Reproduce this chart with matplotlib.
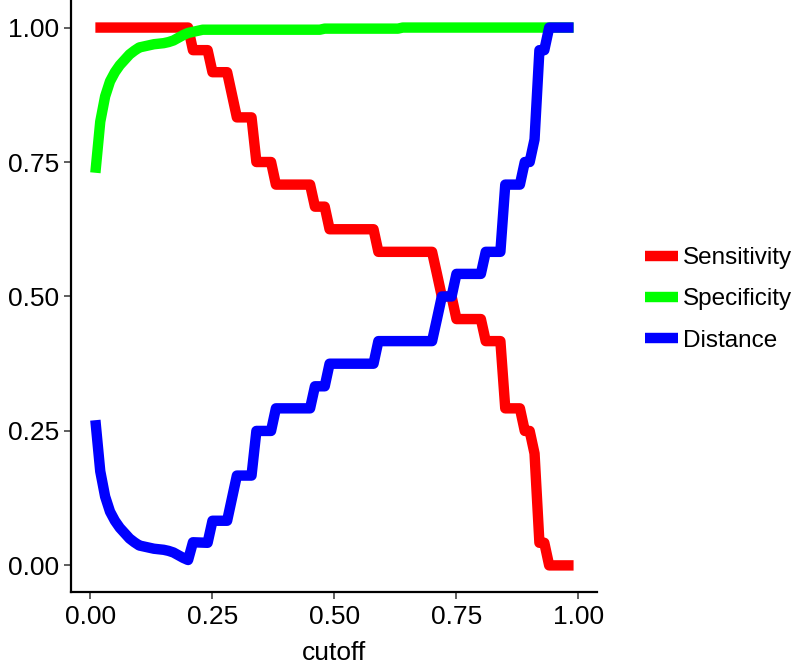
import numpy as np
import matplotlib
matplotlib.use("Agg")
import matplotlib.pyplot as plt

# polyline vertices (cutoff, value)
sens_x = [0.01, 0.20, 0.21, 0.24, 0.25, 0.28, 0.29, 0.30, 0.33, 0.34, 0.37, 0.38,
          0.45, 0.46, 0.48, 0.49, 0.58, 0.59, 0.70, 0.71, 0.72, 0.74, 0.75, 0.80,
          0.81, 0.84, 0.85, 0.88, 0.89, 0.90, 0.91, 0.92, 0.93, 0.94, 0.99]
sens_y = [1.0, 1.0, 0.958, 0.958, 0.917, 0.917, 0.875, 0.833, 0.833, 0.75, 0.75, 0.708,
          0.708, 0.667, 0.667, 0.625, 0.625, 0.583, 0.583, 0.542, 0.5, 0.5, 0.458, 0.458,
          0.417, 0.417, 0.292, 0.292, 0.25, 0.25, 0.208, 0.042, 0.042, 0.0, 0.0]

spec_x = [0.01, 0.02, 0.03, 0.04, 0.05, 0.06, 0.07, 0.08, 0.09, 0.10, 0.11, 0.12,
          0.13, 0.14, 0.15, 0.16, 0.17, 0.18, 0.19, 0.20, 0.21, 0.22, 0.23, 0.24,
          0.47, 0.48, 0.63, 0.64, 0.99]
spec_y = [0.730, 0.825, 0.872, 0.900, 0.917, 0.930, 0.940, 0.950, 0.957, 0.963, 0.965, 0.967,
          0.969, 0.970, 0.971, 0.973, 0.976, 0.981, 0.986, 0.990, 0.992, 0.994, 0.996, 0.996,
          0.996, 0.998, 0.998, 1.0, 1.0]

dist_x = [0.01, 0.02, 0.03, 0.04, 0.05, 0.06, 0.07, 0.08, 0.09, 0.10, 0.11, 0.12,
          0.13, 0.14, 0.15, 0.16, 0.17, 0.18, 0.19, 0.20, 0.21, 0.24, 0.25, 0.28,
          0.29, 0.30, 0.33, 0.34, 0.37, 0.38, 0.45, 0.46, 0.48, 0.49, 0.58, 0.59,
          0.70, 0.71, 0.72, 0.74, 0.75, 0.80, 0.81, 0.84, 0.85, 0.88, 0.89, 0.90,
          0.91, 0.92, 0.93, 0.94, 0.99]
dist_y = [0.270, 0.175, 0.128, 0.100, 0.083, 0.070, 0.060, 0.050, 0.043, 0.037, 0.035, 0.033,
          0.031, 0.030, 0.029, 0.027, 0.024, 0.019, 0.014, 0.010, 0.043, 0.042, 0.083, 0.083,
          0.125, 0.167, 0.167, 0.25, 0.25, 0.292, 0.292, 0.333, 0.333, 0.375, 0.375, 0.417,
          0.417, 0.458, 0.5, 0.5, 0.542, 0.542, 0.583, 0.583, 0.708, 0.708, 0.75, 0.75,
          0.792, 0.958, 0.958, 1.0, 1.0]

labels = ["Sensitivity", "Specificity", "Distance"]
colors = ["#FF0000", "#00FF00", "#0000FF"]

plt.rcParams['font.family'] = ['Liberation Sans', 'DejaVu Sans']

fig = plt.figure(figsize=(7.94, 6.64), dpi=100)
ax = fig.add_axes([0.090, 0.108, 0.6625, 0.891])

lw = 7.5
ax.plot(sens_x, sens_y, color=colors[0], lw=lw, label=labels[0], solid_capstyle='butt')
ax.plot(spec_x, spec_y, color=colors[1], lw=lw, label=labels[1], solid_capstyle='butt')
ax.plot(dist_x, dist_y, color=colors[2], lw=lw, label=labels[2], solid_capstyle='butt')

ax.set_xlim(0.01 - 0.049, 0.99 + 0.049)
ax.set_ylim(-0.05, 1.05)
ax.set_xticks([0, 0.25, 0.5, 0.75, 1.0])
ax.set_xticklabels(["0.00", "0.25", "0.50", "0.75", "1.00"])
ax.set_yticks([0, 0.25, 0.5, 0.75, 1.0])
ax.set_yticklabels(["0.00", "0.25", "0.50", "0.75", "1.00"])
ax.tick_params(labelsize=19, length=5, width=1.1, color='#333333', labelcolor='black', pad=4)
for side in ['top', 'right']:
    ax.spines[side].set_visible(False)
for side in ['left', 'bottom']:
    ax.spines[side].set_linewidth(1.6)
ax.set_xlabel("cutoff", fontsize=19, labelpad=9)

leg = ax.legend(loc='center left', bbox_to_anchor=(0.800, 0.549), bbox_transform=fig.transFigure,
                frameon=False, fontsize=17.5, handlelength=1.35, handletextpad=0.2,
                labelspacing=0.8, borderaxespad=0)
for h in leg.get_lines():
    h.set_linewidth(7.5)

fig.savefig("out.png", dpi=100)
